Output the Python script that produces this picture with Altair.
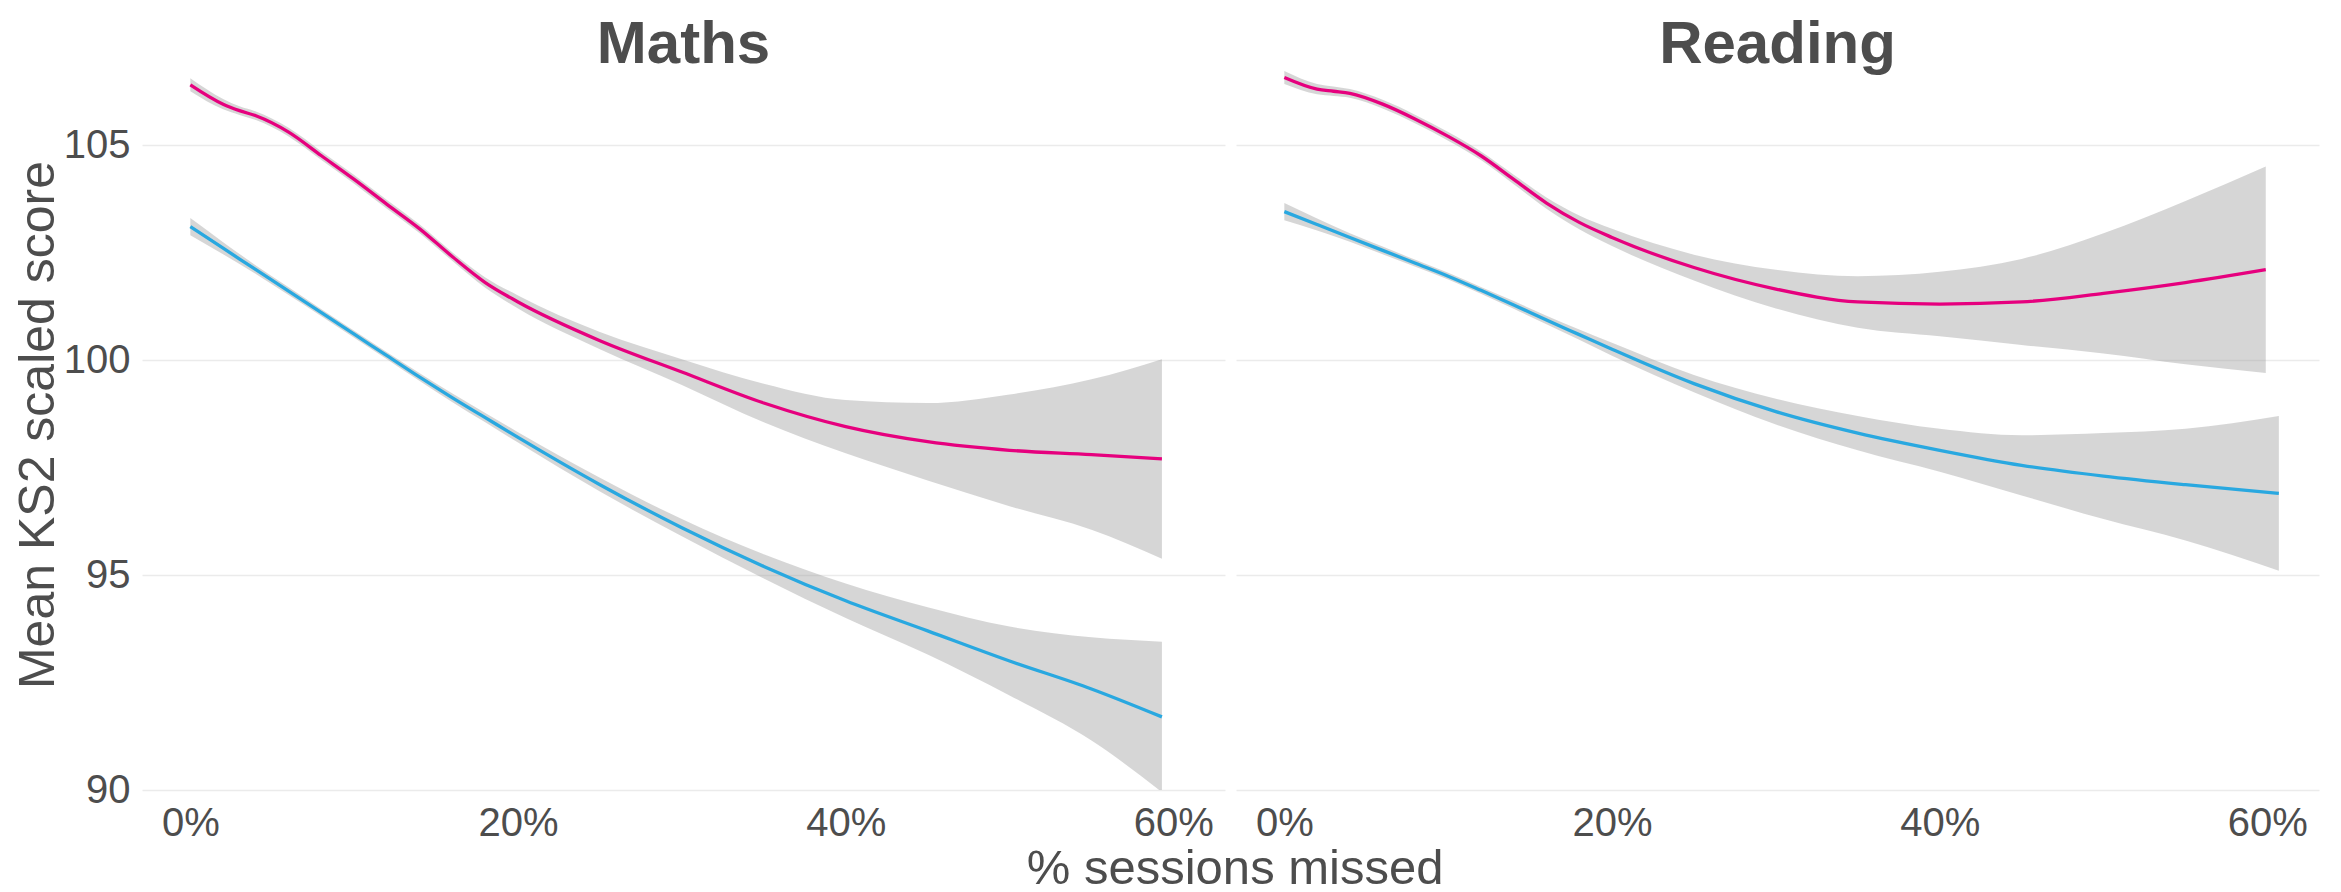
import altair as alt
import pandas as pd

# ---- data ----
subjects = ["Maths", "Reading"]
groups = ["pink", "blue"]

mp_x = [0, 2, 3, 4, 6, 8, 10, 12, 14, 16, 18, 20, 25, 30, 35, 40, 45, 50, 55, 59.3]
mp_y = [106.4, 105.95, 105.8, 105.68, 105.3, 104.75, 104.2, 103.62, 103.05, 102.4, 101.8, 101.35,
        100.45, 99.72, 99.0, 98.45, 98.1, 97.9, 97.8, 97.7]
mp_h = [0.15, 0.12, 0.1, 0.1, 0.1, 0.1, 0.1, 0.1, 0.1, 0.1, 0.12, 0.15,
        0.2, 0.3, 0.45, 0.62, 0.9, 1.3, 1.75, 2.32]

mb_x = [0, 2, 4, 6, 8, 10, 12, 14, 16, 18, 20, 25, 30, 35, 40, 45, 50, 55, 59.3]
mb_y = [103.1, 102.6, 102.1, 101.6, 101.1, 100.6, 100.1, 99.6, 99.12, 98.66, 98.2,
        97.1, 96.1, 95.2, 94.4, 93.7, 93.0, 92.35, 91.7]
mb_h = [0.2, 0.14, 0.1, 0.09, 0.08, 0.08, 0.08, 0.09, 0.1, 0.11, 0.12,
        0.16, 0.2, 0.28, 0.4, 0.55, 0.8, 1.2, 1.75]

rp_x = [0, 2, 3, 4, 6, 8, 10, 12, 14, 16, 18, 20, 25, 30, 35, 40, 45, 50, 55, 59.9]
rp_y = [106.57, 106.3, 106.25, 106.2, 105.95, 105.6, 105.2, 104.75, 104.2, 103.65, 103.2, 102.85,
        102.15, 101.65, 101.35, 101.3, 101.35, 101.55, 101.8, 102.1]
rp_h = [0.15, 0.12, 0.11, 0.1, 0.1, 0.1, 0.1, 0.1, 0.11, 0.13, 0.16, 0.2,
        0.3, 0.45, 0.6, 0.75, 1.0, 1.4, 1.9, 2.4]

rb_x = [0, 2, 4, 6, 8, 10, 12, 14, 16, 18, 20, 25, 30, 35, 40, 45, 50, 55, 60.7]
rb_y = [103.45, 103.15, 102.85, 102.55, 102.25, 101.95, 101.62, 101.28, 100.93, 100.59, 100.25,
        99.45, 98.8, 98.3, 97.9, 97.55, 97.3, 97.1, 96.9]
rb_h = [0.2, 0.14, 0.1, 0.09, 0.08, 0.08, 0.08, 0.09, 0.1, 0.12, 0.15,
        0.2, 0.3, 0.4, 0.5, 0.7, 1.0, 1.3, 1.8]

y_ticks = [90, 95, 100, 105]
x_ticks = [0, 20, 40, 60]

series = [
    ("Maths", "pink", mp_x, mp_y, mp_h),
    ("Maths", "blue", mb_x, mb_y, mb_h),
    ("Reading", "pink", rp_x, rp_y, rp_h),
    ("Reading", "blue", rb_x, rb_y, rb_h),
]
rows = []
for subj, grp, xs, ys, hs in series:
    for x, y, h in zip(xs, ys, hs):
        rows.append({"subject": subj, "group": grp, "x": x, "y": y,
                     "lo": y - h, "hi": y + h})
df = pd.DataFrame(rows)

TXT = "#4d4d4d"
FONT = "Liberation Sans"

xscale = alt.Scale(domain=[-2.95, 63.15], nice=False, zero=False)
yscale = alt.Scale(domain=[90, 107], nice=False, zero=False)

base = alt.Chart(df)

band = base.mark_area(color="#999999", opacity=0.4, clip=True, interpolate="monotone").encode(
    x=alt.X("x:Q", scale=xscale,
            axis=alt.Axis(values=x_ticks, labelExpr="datum.value + '%'", title=None,
                          grid=False, ticks=False, domain=False, labelFontSize=40,
                          labelColor=TXT, labelFont=FONT, labelPadding=13)),
    y=alt.Y("lo:Q", scale=yscale,
            axis=alt.Axis(values=y_ticks, title="Mean KS2 scaled score", grid=True,
                          gridColor="#ebebeb", gridWidth=1.6, ticks=False, domain=False,
                          labelFontSize=40, labelColor=TXT, labelFont=FONT, labelPadding=12,
                          titleFontSize=50, titleColor=TXT, titleFont=FONT,
                          titleFontWeight="normal", titlePadding=0)),
    y2="hi:Q",
    detail="group:N",
)

line = base.mark_line(strokeWidth=3.3, clip=True, interpolate="monotone").encode(
    x=alt.X("x:Q", scale=xscale),
    y=alt.Y("y:Q", scale=yscale),
    color=alt.Color("group:N", scale=alt.Scale(domain=groups, range=["#E6007E", "#29A8E0"]),
                    legend=None),
)

chart = alt.layer(band, line).properties(width=1083, height=731).facet(
    column=alt.Column("subject:N", sort=subjects,
                      header=alt.Header(title=None, labelFontSize=60, labelFontWeight="bold",
                                        labelColor=TXT, labelFont=FONT,
                                        labelBaseline="alphabetic", labelPadding=-64)),
    spacing=11,
).properties(
    title=alt.TitleParams("% sessions missed", orient="bottom", anchor="middle",
                          fontSize=49, font=FONT, color=TXT, fontWeight="normal",
                          offset=2, dx=69),
    padding={"left": 5, "top": 7, "right": 5, "bottom": 0},
).configure_view(stroke=None)

chart.save("out.html", embed_options={"renderer": "svg", "actions": False})
